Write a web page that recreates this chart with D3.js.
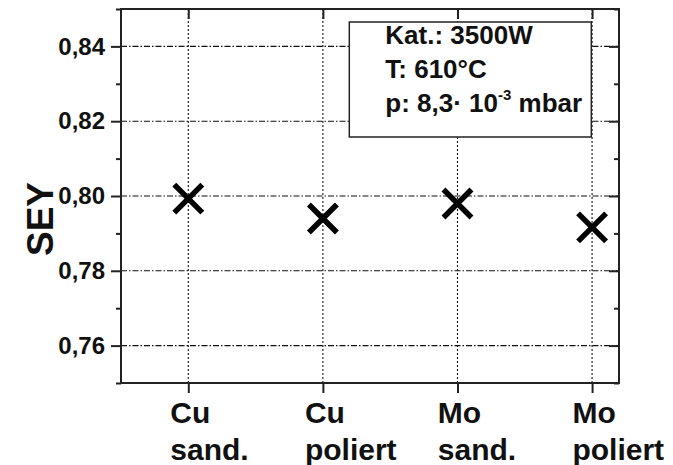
<!DOCTYPE html>
<html>
<head>
<meta charset="utf-8">
<script src="https://cdn.jsdelivr.net/npm/d3@7"></script>
<style>
  body { margin: 0; background: #fff; }
  svg { display: block; font-family: 'Liberation Sans', Arial, sans-serif; }
</style>
</head>
<body>
<div id="chart"></div>
<script>
/* global d3 */

// samples (two-line labels) and their SEY values
const categories = [['Cu', 'sand.'], ['Cu', 'poliert'], ['Mo', 'sand.'], ['Mo', 'poliert']];
const seyValues = [0.7993, 0.7940, 0.7980, 0.7916];

const yMajorTicks = [0.76, 0.78, 0.80, 0.82, 0.84];
const yMinorTicks = [0.75, 0.77, 0.79, 0.81, 0.83, 0.85];

const legendLines = ['Kat.: 3500W', 'T: 610\u00b0C'];
const pressureText = ['p: 8,3\u00b7 10', '-3', ' mbar'];

const W = 673;
const H = 465;
const margin = { top: 9, right: 54, bottom: 82, left: 121 };
const innerW = W - margin.left - margin.right;
const innerH = H - margin.top - margin.bottom;

const svg = d3.select('#chart')
  .append('svg')
  .attr('width', W)
  .attr('height', H);

svg.append('rect')
  .attr('width', W)
  .attr('height', H)
  .attr('fill', '#fff');

const g = svg.append('g')
  .attr('transform', `translate(${margin.left},${margin.top})`);

const x = d3.scaleLinear()
  .domain([-0.5, 3.2])
  .range([0, innerW]);

const y = d3.scaleLinear()
  .domain([0.75, 0.85])
  .range([innerH, 0]);

const idx = categories.map((d, i) => i);
const fmt = (d) => d3.format('.2f')(d).replace('.', ',');

// grid
g.append('g')
  .selectAll('line')
  .data(yMajorTicks)
  .enter()
  .append('line')
  .attr('x1', 0)
  .attr('x2', innerW)
  .attr('y1', (d) => y(d))
  .attr('y2', (d) => y(d))
  .attr('stroke', '#111')
  .attr('stroke-width', 1.1)
  .attr('stroke-dasharray', '6,2,1.5,2');

g.append('g')
  .selectAll('line')
  .data(idx)
  .enter()
  .append('line')
  .attr('x1', (d) => x(d))
  .attr('x2', (d) => x(d))
  .attr('y1', 0)
  .attr('y2', innerH)
  .attr('stroke', '#111')
  .attr('stroke-width', 1.1)
  .attr('stroke-dasharray', '2,2');

// legend box (white, hides the grid beneath)
const legend = g.append('g')
  .attr('transform', `translate(${x(1.2) - 0.5},${13})`);

legend.append('rect')
  .attr('width', 242)
  .attr('height', 115)
  .attr('fill', '#fff')
  .attr('stroke', '#222')
  .attr('stroke-width', 1.5);

legend.selectAll('text.line')
  .data(legendLines)
  .enter()
  .append('text')
  .attr('class', 'line')
  .attr('x', 36)
  .attr('y', (d, i) => 22 + i * 34)
  .attr('font-size', 26)
  .attr('font-weight', 'bold')
  .attr('fill', '#111')
  .text((d) => d);

const pLine = legend.append('text')
  .attr('x', 36)
  .attr('y', 22 + 2 * 34)
  .attr('font-size', 26)
  .attr('font-weight', 'bold')
  .attr('fill', '#111');
pLine.append('tspan').text(pressureText[0]);
pLine.append('tspan')
  .attr('dy', -12)
  .attr('font-size', 15)
  .text(pressureText[1]);
pLine.append('tspan')
  .attr('dy', 12)
  .text(pressureText[2]);

// axes
const leftMajor = d3.axisLeft(y).tickValues(yMajorTicks).tickSize(10).tickPadding(6).tickFormat(fmt);
const leftMinor = d3.axisLeft(y).tickValues(yMinorTicks).tickSize(5).tickFormat('');
const rightMajor = d3.axisLeft(y).tickValues(yMajorTicks).tickSize(10).tickFormat('');
const rightMinor = d3.axisLeft(y).tickValues(yMinorTicks).tickSize(5).tickFormat('');
const bottomAxis = d3.axisBottom(x).tickValues(idx).tickSize(10).tickFormat('');
const topAxis = d3.axisBottom(x).tickValues(idx).tickSize(10).tickFormat('');

function styleAxis(sel) {
  sel.select('.domain').remove();
  sel.selectAll('.tick line').attr('stroke', '#222').attr('stroke-width', 2);
}

const yAxisG = g.append('g').call(leftMajor).call(styleAxis);
yAxisG.selectAll('.tick text')
  .attr('font-size', 24)
  .attr('font-weight', 'bold')
  .attr('fill', '#111')
  .attr('font-family', "'Liberation Sans', Arial, sans-serif");
g.append('g').call(leftMinor).call(styleAxis);
g.append('g').attr('transform', `translate(${innerW},0)`).call(rightMajor).call(styleAxis);
g.append('g').attr('transform', `translate(${innerW},0)`).call(rightMinor).call(styleAxis);
g.append('g').attr('transform', `translate(0,${innerH})`).call(bottomAxis).call(styleAxis);
g.append('g').call(topAxis).call(styleAxis);

// frame
g.append('rect')
  .attr('width', innerW)
  .attr('height', innerH)
  .attr('fill', 'none')
  .attr('stroke', '#222')
  .attr('stroke-width', 2);

// category labels: first line centred on the tick, second line left-aligned with it
const catLabels = g.append('g')
  .selectAll('text')
  .data(categories)
  .enter()
  .append('text')
  .attr('font-size', 30)
  .attr('font-weight', 'bold')
  .attr('fill', '#111');

catLabels.each(function (d, i) {
  const t = d3.select(this);
  const first = t.append('tspan').attr('y', innerH + 40).text(d[0]);
  const w0 = first.node().getComputedTextLength();
  const x0 = x(i) - w0 / 2 + 2;
  first.attr('x', x0);
  t.append('tspan').attr('x', x0).attr('y', innerH + 77).text(d[1]);
});

// markers
const s = 14;
g.append('g')
  .selectAll('path')
  .data(seyValues)
  .enter()
  .append('path')
  .attr('transform', (d, i) => `translate(${x(i)},${y(d)})`)
  .attr('d', `M${-s},${-s}L${s},${s}M${-s},${s}L${s},${-s}`)
  .attr('stroke', '#000')
  .attr('stroke-width', 5.5)
  .attr('fill', 'none');

// y title
svg.append('text')
  .attr('transform', 'rotate(-90)')
  .attr('x', -219)
  .attr('y', 53)
  .attr('text-anchor', 'middle')
  .attr('font-size', 37)
  .attr('font-weight', 'bold')
  .attr('fill', '#111')
  .text('SEY');
</script>
</body>
</html>
